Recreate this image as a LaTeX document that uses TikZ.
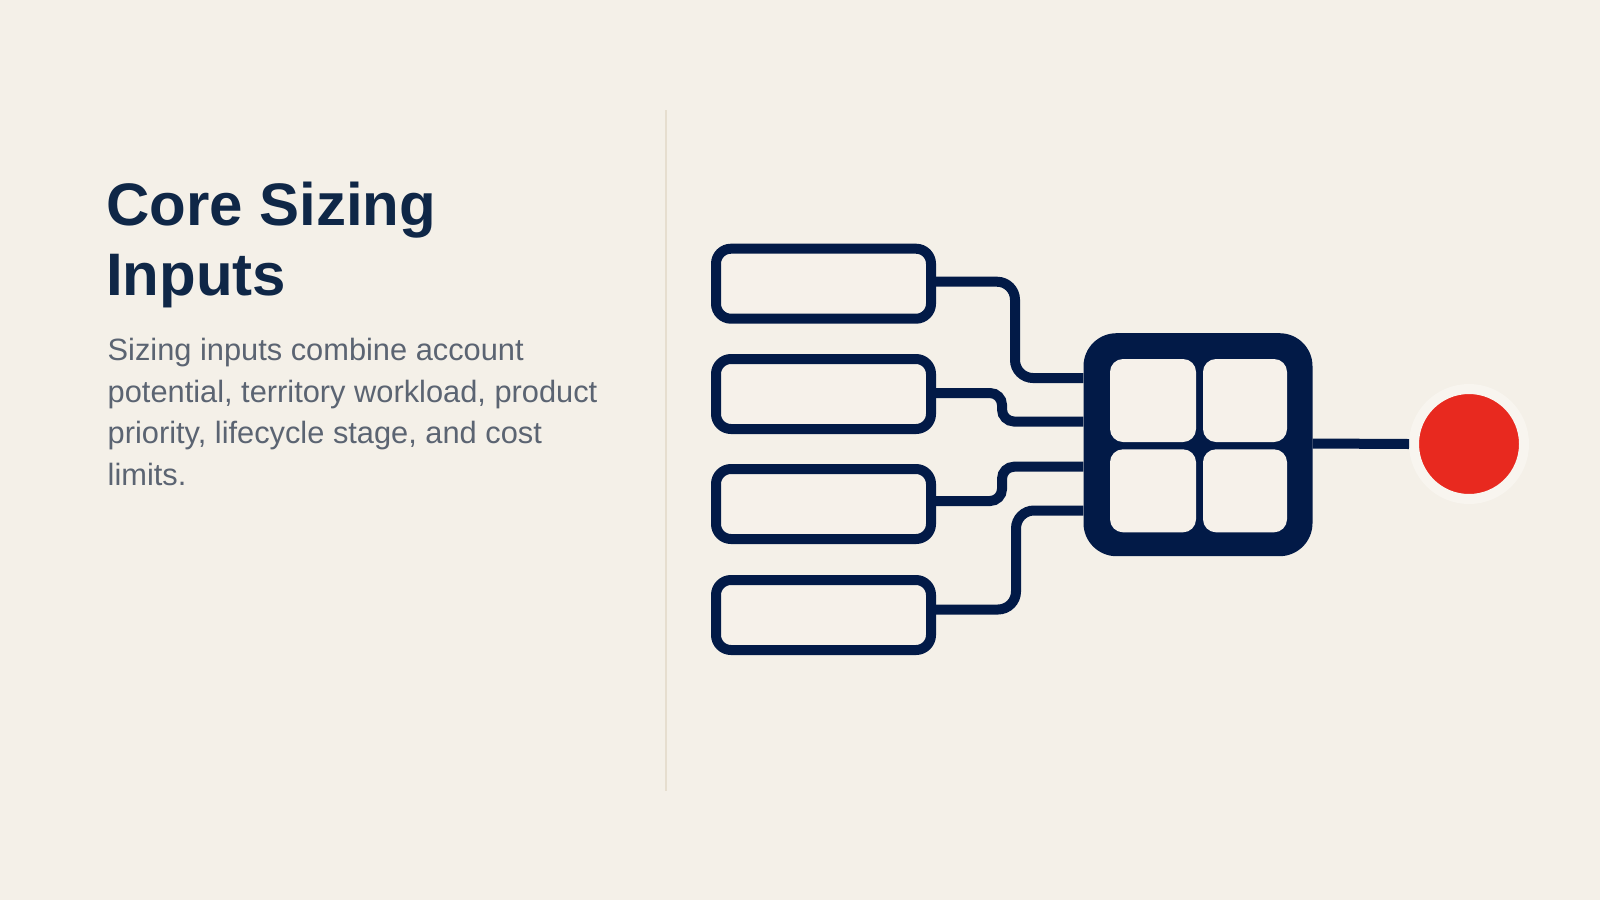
\documentclass[tikz,border=0pt]{standalone}
\usepackage{fontspec}
\setmainfont{Liberation Sans}
\definecolor{bg}{HTML}{F4F0E8}
\definecolor{boxfill}{HTML}{F6F1EA}
\definecolor{navy}{HTML}{021A47}
\definecolor{titlec}{HTML}{0F2747}
\definecolor{bodyc}{HTML}{5B6472}
\definecolor{divc}{HTML}{E6DECF}
\definecolor{dotred}{HTML}{E8291F}
\definecolor{ringc}{HTML}{F8F5EF}
\begin{document}
\begin{tikzpicture}[x=1pt,y=-1pt,
  inbox/.style={draw=navy,line width=10pt,fill=boxfill,rounded corners=15pt,minimum width=215pt,minimum height=70pt,inner sep=0pt},
  cell/.style={fill=boxfill,rounded corners=13pt,inner sep=0pt},
  conn/.style={draw=navy,line width=10pt},
  titletxt/.style={anchor=base west,inner sep=0pt,text=titlec,font=\fontsize{60}{69}\selectfont\bfseries},
  bodytxt/.style={anchor=base west,inner sep=0pt,text=bodyc,font=\fontsize{30.8}{41.7}\selectfont}]
\fill[bg] (0,0) rectangle (1600,900);
\useasboundingbox (0,0) rectangle (1600,900);
% divider
\draw[divc,line width=2pt] (666,110) -- (666,791);
% text
\node[titletxt] (t1) at (106,225.7) {Core Sizing};
\node[titletxt] (t2) at (106,295) {Inputs};
\node[bodytxt] (d1) at (107.5,360.5) {Sizing inputs combine account};
\node[bodytxt] (d2) at (107.5,402.2) {potential, territory workload, product};
\node[bodytxt] (d3) at (107.5,443.9) {priority, lifecycle stage, and cost};
\node[bodytxt] (d4) at (107.5,485.6) {limits.};
% input boxes
\node[inbox] (b1) at (823.5,283.7) {};
\node[inbox] (b2) at (823.5,394) {};
\node[inbox] (b3) at (823.5,504) {};
\node[inbox] (b4) at (823.5,615) {};
% hub
\node[fill=navy,rounded corners=33pt,minimum width=229pt,minimum height=223pt,inner sep=0pt] (hub) at (1198,444.7) {};
\node[cell,minimum width=86pt,minimum height=83pt] (c1) at (1153,400.5) {};
\node[cell,minimum width=84pt,minimum height=83pt] (c2) at (1245,400.5) {};
\node[cell,minimum width=86pt,minimum height=83pt] (c3) at (1153,490.8) {};
\node[cell,minimum width=84pt,minimum height=83pt] (c4) at (1245,490.8) {};
% connectors
\draw[conn,rounded corners=18pt] ([yshift=2pt]b1.east) -| (1015,378) -- (hub.west |- 0,378);
\draw[conn,rounded corners=12pt] ([yshift=1pt]b2.east) -| (1002,421.5) -- (hub.west |- 0,421.5);
\draw[conn,rounded corners=12pt] ([yshift=3pt]b3.east) -| (1002,466.7) -- (hub.west |- 0,466.7);
\draw[conn,rounded corners=18pt] ([yshift=5.5pt]b4.east) -| (1016,510.5) -- (hub.west |- 0,510.5);
% output
\node[circle,fill=dotred,draw=ringc,line width=10pt,minimum size=110pt,inner sep=0pt] (dot) at (1469,444) {};
\draw[conn] (hub.east |- 0,443.5) -- (dot.west);
\end{tikzpicture}
\end{document}
